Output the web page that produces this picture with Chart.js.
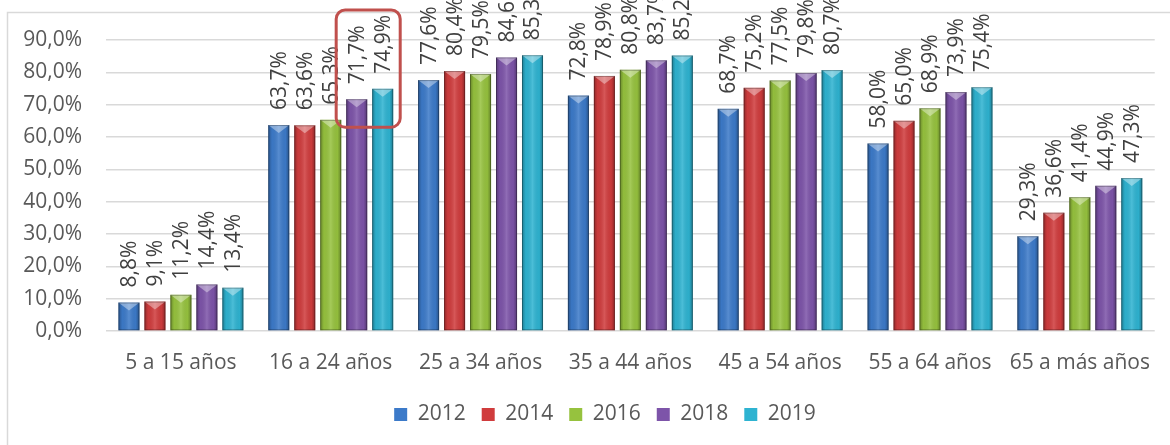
<!DOCTYPE html>
<html>
<head>
<meta charset="utf-8">
<script src="https://cdn.jsdelivr.net/npm/chart.js@4.4.1/dist/chart.umd.min.js"></script>
<style>
  html, body { margin: 0; padding: 0; background: #fff; }
  #wrap { width: 1170px; height: 445px; position: relative; }
</style>
</head>
<body>
<div id="wrap"><canvas id="chart" width="1170" height="445"></canvas></div>
<script>
const categories = ["5 a 15 años", "16 a 24 años", "25 a 34 años", "35 a 44 años", "45 a 54 años", "55 a 64 años", "65 a más años"];
const years = ["2012", "2014", "2016", "2018", "2019"];
const v2012 = [8.8, 63.7, 77.6, 72.8, 68.7, 58.0, 29.3];
const v2014 = [9.1, 63.6, 80.4, 78.9, 75.2, 65.0, 36.6];
const v2016 = [11.2, 65.3, 79.5, 80.8, 77.5, 68.9, 41.4];
const v2018 = [14.4, 71.7, 84.6, 83.7, 79.8, 73.9, 44.9];
const v2019 = [13.4, 74.9, 85.3, 85.2, 80.7, 75.4, 47.3];
const yTicks = [0, 10, 20, 30, 40, 50, 60, 70, 80, 90];
const colors = ["#3C7AC9", "#D03C3D", "#96C23E", "#7D54A9", "#2EB3D1"];

const FONT = "'Open Sans', 'Noto Sans', sans-serif";
const fmt = v => v.toFixed(1).replace(".", ",") + "%";

// frame around the whole chart (cut off on the right and bottom)
const framePlugin = {
  id: "frame",
  afterLayout(chart) {
    // legend sits a bit right of the canvas centre in the original
    chart.legend.left += 27;
    chart.legend.right += 27;
  },
  beforeDraw(chart) {
    const ctx = chart.ctx;
    ctx.save();
    ctx.strokeStyle = "#D9D9D9";
    ctx.lineWidth = 1.5;
    ctx.strokeRect(7.5, 12.5, 1400, 600);
    ctx.restore();
  }
};

// bevel look on bars + rotated value labels + red highlight box
const barLook = {
  id: "barLook",
  afterDatasetsDraw(chart) {
    const ctx = chart.ctx;
    ctx.save();
    chart.data.datasets.forEach((ds, di) => {
      const meta = chart.getDatasetMeta(di);
      meta.data.forEach(bar => {
        const w = bar.width, l = bar.x - w / 2, r = bar.x + w / 2;
        const top = bar.y, base = bar.base;
        const g = ctx.createLinearGradient(l, 0, r, 0);
        g.addColorStop(0, "rgba(0,0,0,0.3)");
        g.addColorStop(0.18, "rgba(0,0,0,0.03)");
        g.addColorStop(0.5, "rgba(255,255,255,0.14)");
        g.addColorStop(0.82, "rgba(0,0,0,0.03)");
        g.addColorStop(1, "rgba(0,0,0,0.32)");
        ctx.fillStyle = g;
        ctx.fillRect(l, top, w, base - top);
        // top bevel triangle
        const bh = Math.min(8, (base - top) / 2);
        ctx.beginPath();
        ctx.moveTo(l, top);
        ctx.lineTo(r, top);
        ctx.lineTo(bar.x, top + bh);
        ctx.closePath();
        ctx.fillStyle = "rgba(255,255,255,0.38)";
        ctx.fill();
        ctx.strokeStyle = "rgba(0,0,0,0.28)";
        ctx.lineWidth = 1;
        ctx.strokeRect(l + 0.5, top + 0.5, w - 1, base - top - 1);
      });
    });
    // value labels
    ctx.fillStyle = "#404040";
    ctx.font = "21px " + FONT;
    ctx.textAlign = "left";
    ctx.textBaseline = "middle";
    chart.data.datasets.forEach((ds, di) => {
      const meta = chart.getDatasetMeta(di);
      meta.data.forEach((bar, i) => {
        ctx.save();
        ctx.translate(bar.x + 1, bar.y - 15);
        ctx.rotate(-Math.PI / 2);
        ctx.fillText(fmt(ds.data[i]), 0, 0);
        ctx.restore();
      });
    });
    // highlight around 2018/2019 labels of the 16-24 group
    const b1 = chart.getDatasetMeta(3).data[1];
    const b2 = chart.getDatasetMeta(4).data[1];
    const x0 = b1.x - b1.width / 2 - 10, x1 = b2.x + b2.width / 2 + 7;
    const y0 = 10, y1 = b1.y + 28;
    ctx.strokeStyle = "#C0504D";
    ctx.lineWidth = 3;
    ctx.beginPath();
    ctx.roundRect(x0, y0, x1 - x0, y1 - y0, 9);
    ctx.stroke();
    ctx.restore();
  }
};

new Chart(document.getElementById("chart"), {
  type: "bar",
  data: {
    labels: categories,
    datasets: [v2012, v2014, v2016, v2018, v2019].map((d, i) => ({
      label: years[i],
      data: d,
      backgroundColor: colors[i],
      borderWidth: 0,
      categoryPercentage: 0.867,
      barPercentage: 0.81
    }))
  },
  options: {
    responsive: false,
    animation: false,
    layout: { padding: { left: 0, right: 14, top: 40, bottom: 10 } },
    plugins: {
      tooltip: { enabled: false },
      legend: {
        position: "bottom",
        labels: {
          boxWidth: 13,
          boxHeight: 13,
          padding: 16,
          color: "#595959",
          font: { family: FONT, size: 21 }
        }
      }
    },
    scales: {
      x: {
        grid: { display: false, drawTicks: false },
        border: { display: false },
        ticks: { color: "#595959", padding: 19, font: { family: FONT, size: 21 }, maxRotation: 0 },
        afterFit: s => { s.height = 57; }
      },
      y: {
        min: 0,
        max: 90,
        afterBuildTicks: s => { s.ticks = yTicks.map(v => ({ value: v })); },
        grid: { color: "#D9D9D9", lineWidth: 1.5, drawTicks: false },
        border: { display: false },
        ticks: { color: "#595959", padding: 24, font: { family: FONT, size: 21 }, callback: v => fmt(v) },
        afterFit: s => { s.width = 106; }
      }
    }
  },
  plugins: [framePlugin, barLook]
});
</script>
</body>
</html>
